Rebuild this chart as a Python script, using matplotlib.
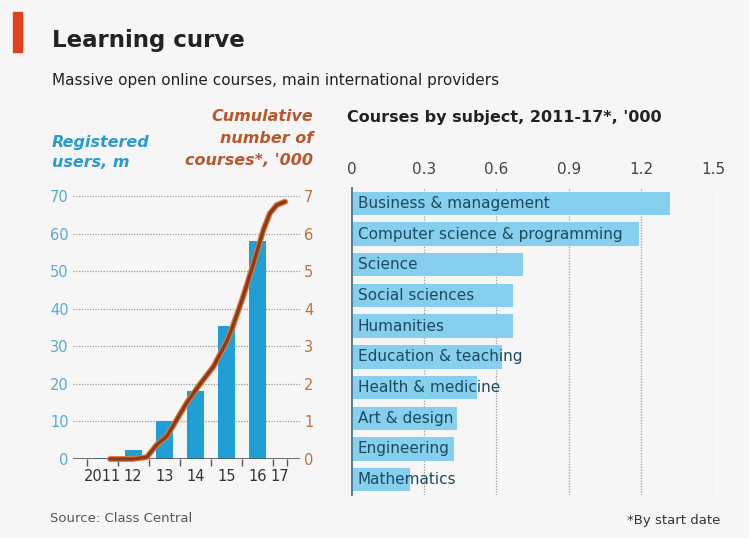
import matplotlib
matplotlib.use("Agg")
import matplotlib.pyplot as plt
from matplotlib.patches import Rectangle

# registered users (m), by year
years = [2011, 2012, 2013, 2014, 2015, 2016]
users = [0.3, 2.5, 10.0, 18.0, 35.5, 58.0]

# cumulative courses ('000)
course_t = [2011.75, 2012.5, 2012.94, 2013.26, 2013.58, 2013.8, 2014.23, 2014.66,
            2015.09, 2015.52, 2015.73, 2016.05, 2016.38, 2016.7, 2016.91, 2017.13, 2017.4]
course_k = [0.0, 0.0, 0.05, 0.38, 0.6, 0.9, 1.5, 2.0,
            2.46, 3.13, 3.57, 4.33, 5.2, 6.1, 6.54, 6.76, 6.85]

year_labels = ["2011", "12", "13", "14", "15", "16", "17"]

subjects = ["Business & management", "Computer science & programming", "Science",
            "Social sciences", "Humanities", "Education & teaching", "Health & medicine",
            "Art & design", "Engineering", "Mathematics"]
subject_k = [1.32, 1.19, 0.71, 0.67, 0.67, 0.625, 0.52, 0.435, 0.425, 0.24]

BG = "#f6f6f6"
BLUE = "#1f9fd6"
LIGHT_BLUE = "#86cfee"
BROWN = "#8a3a1e"
ORANGE = "#b8582e"
GRID = "#9a9a9a"
TEXT = "#222222"

plt.rcParams["font.family"] = ["DejaVu Sans"]

fig = plt.figure(figsize=(7.49, 5.38), dpi=100, facecolor=BG)

# header
fig.patches.append(Rectangle((13 / 749, 1 - 52 / 538), 9 / 749, 40 / 538,
                             transform=fig.transFigure, color="#e3401c"))
fig.text(52 / 749, 1 - 47 / 538, "Learning curve", fontsize=16.5, fontweight="bold",
         color=TEXT, va="baseline")
fig.text(52 / 749, 1 - 85 / 538, "Massive open online courses, main international providers",
         fontsize=11, color=TEXT, va="baseline")

# left panel: users (bars) and courses (line)
ax = fig.add_axes([73 / 749, 1 - 459 / 538, 227 / 749, 263 / 538])
ax.set_facecolor("none")
ax.bar([y + 0.5 for y in years], users, width=0.55, color=BLUE, zorder=2)
ax.set_xlim(2010.558, 2017.88)
ax.set_ylim(0, 70)
ax.set_yticks(range(0, 71, 10))
ax.tick_params(axis="y", length=0, pad=3, labelsize=10.5, labelcolor="#5aa9cf")
for v in range(10, 71, 10):
    ax.axhline(v, color=GRID, lw=0.9, ls=(0, (1, 1.2)), zorder=1)
ax.axhline(0, color="#555555", lw=1.2, zorder=3)
ax.set_xticks(list(range(2011, 2018)) + [2017.45])
ax.set_xticklabels([])
ax.set_xticks([y + 0.5 for y in range(2011, 2017)] + [2017.22], year_labels, minor=True)
ax.tick_params(axis="x", which="major", length=5, width=1, color="#555555", direction="out")
ax.tick_params(axis="x", which="minor", length=0, pad=7, labelsize=10.5, labelcolor="#333333")
for s in ax.spines.values():
    s.set_visible(False)

ax2 = ax.twinx()
ax2.set_ylim(0, 7)
ax2.set_yticks(range(0, 8))
ax2.tick_params(axis="y", length=0, pad=3, labelsize=10.5, labelcolor="#c0703f")
ax2.plot(course_t, course_k, color="#e07a34", lw=4.2, solid_capstyle="round", clip_on=False, zorder=4)
ax2.plot(course_t, course_k, color=BROWN, lw=2.4, solid_capstyle="round", clip_on=False, zorder=5)
for s in ax2.spines.values():
    s.set_visible(False)

fig.text(52 / 749, 1 - 147 / 538, "Registered", fontsize=11.5, style="italic",
         fontweight="semibold", color="#2a9bd0", va="baseline")
fig.text(52 / 749, 1 - 167 / 538, "users, m", fontsize=11.5, style="italic",
         fontweight="semibold", color="#2a9bd0", va="baseline")
for i, line in enumerate(["Cumulative", "number of", "courses*, '000"]):
    fig.text(313 / 749, 1 - (121 + 22 * i) / 538, line, fontsize=11.5, style="italic",
             fontweight="semibold", color=ORANGE, ha="right", va="baseline")

# right panel: courses by subject
bx = fig.add_axes([351.7 / 749, 1 - 495 / 538, 361.6 / 749, 307 / 538])
bx.set_facecolor("none")
ypos = list(range(len(subjects)))
bx.barh(ypos, subject_k, height=0.76, color=LIGHT_BLUE, zorder=2)
for y, name in zip(ypos, subjects):
    bx.text(0.025, y, name, fontsize=11, color="#1d4a5e", va="center", ha="left", zorder=3)
bx.set_xlim(0, 1.5)
bx.set_ylim(9.5, -0.5)
bx.set_yticks([])
bx.xaxis.tick_top()
bx.set_xticks([0, 0.3, 0.6, 0.9, 1.2, 1.5], ["0", "0.3", "0.6", "0.9", "1.2", "1.5"])
bx.tick_params(axis="x", length=0, pad=8, labelsize=11, labelcolor="#444444")
for v in [0.3, 0.6, 0.9, 1.2, 1.5]:
    bx.axvline(v, color=GRID, lw=0.9, ls=(0, (1, 1.2)), zorder=1)
for s in ["top", "right", "bottom"]:
    bx.spines[s].set_visible(False)
bx.spines["left"].set_color("#4f7f95")
bx.spines["left"].set_linewidth(1.4)

fig.text(347 / 749, 1 - 122 / 538, "Courses by subject, 2011-17*, '000", fontsize=11.5,
         fontweight="semibold", color=TEXT, va="baseline")

# footer
fig.text(50 / 749, 1 - 522 / 538, "Source: Class Central", fontsize=9.5, color="#555555", va="baseline")
fig.text(720 / 749, 1 - 524 / 538, "*By start date", fontsize=9.5, color="#333333",
         ha="right", va="baseline")

fig.savefig("out.png", dpi=100, facecolor=BG)
